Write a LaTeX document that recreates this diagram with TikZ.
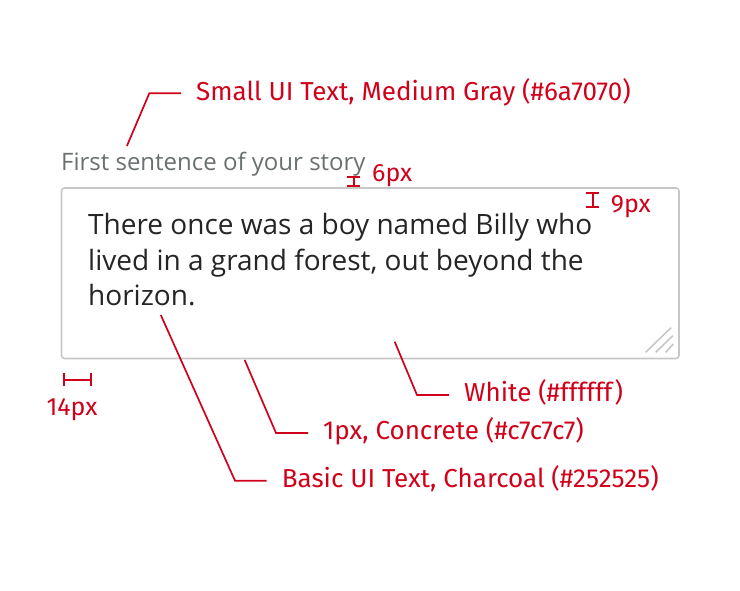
\documentclass[tikz,border=0pt]{standalone}
\usepackage{fontspec}
\setmainfont{Open Sans}
\newfontfamily\notefont{Fira Sans}
\usetikzlibrary{arrows.meta}
\definecolor{charcoal}{HTML}{252525}
\definecolor{mediumgray}{HTML}{6A7070}
\definecolor{concrete}{HTML}{C7C7C7}
\definecolor{specred}{HTML}{D0021B}
\tikzset{
	leader/.style={draw=specred, line width=1.7pt},
	note/.style={anchor=west, text=specred, font=\notefont\fontsize{26}{26}\selectfont,
		inner xsep=15pt, inner ysep=0pt, text height=13.4pt, text depth=0pt},
	gap/.style={draw=specred, line width=2pt, {Bar[width=13pt]}-{Bar[width=13pt]}},
	gaplabel/.style={text=specred, font=\notefont\fontsize{25}{25}\selectfont, inner sep=0pt},
	body/.style={anchor=base west, text=charcoal, font=\fontsize{28}{28}\selectfont, inner sep=0pt},
}

\begin{document}
\begin{tikzpicture}[x=1pt, y=-1pt]
		\useasboundingbox (0,0) rectangle (740,590);
		\coordinate (TL) at (61.5,188);
		\coordinate (BR) at (679,358.5);
		\draw[concrete, line width=1.6pt, fill=white, rounded corners=3pt] (TL) rectangle (BR);
		\draw[concrete, line width=1.6pt] (645.7,352.3) -- (671,327.7) (655.7,352.3) -- (672.7,335.7) (665.7,352.3) -- (673.3,344);
		\node[anchor=base west, inner sep=0pt, text=mediumgray, font=\fontsize{24}{24}\selectfont] (caption) at (61,170) {First sentence of your story};
		\node[body] (line1) at (88,234.3) {There once was a boy named Billy who};
		\node[body] (line2) at (88,270.7) {lived in a grand forest, out beyond the};
		\node[body] (line3) at (88,305.5) {horizon.};
		% callouts
		\coordinate (smallS) at (126.9,146);
		\coordinate (smallC) at (149.3,93.3);
		\node[note] (small) at (181,93.3) {Small UI Text, Medium Gray (\#6a7070)};
		\draw[leader] (smallS) -- (smallC) -- (small.west);
		\coordinate (whiteS) at (394.7,341.7);
		\coordinate (whiteC) at (417,395);
		\node[note] (white) at (449,395) {White (\#ffffff)};
		\draw[leader] (whiteS) -- (whiteC) -- (white.west);
		\coordinate (borderS) at (244.7,360);
		\coordinate (borderC) at (276,433);
		\node[note] (border) at (308,433) {1px, Concrete (\#c7c7c7)};
		\draw[leader] (borderS) -- (borderC) -- (border.west);
		\coordinate (basicS) at (160.8,315);
		\coordinate (basicC) at (235,480.7);
		\node[note] (basic) at (266.7,480.7) {Basic UI Text, Charcoal (\#252525)};
		\draw[leader] (basicS) -- (basicC) -- (basic.west);
		% spacings
		\coordinate (topA) at (353.7,176);
		\coordinate (topB) at (353.7,187);
		\draw[gap] (topA) -- (topB);
		\node[gaplabel, anchor=base west] (top) at (372,181) {6px};
		\coordinate (padA) at (592.5,191.7);
		\coordinate (padB) at (592.5,208.3);
		\draw[gap] (padA) -- (padB);
		\node[gaplabel, anchor=base west] (pad) at (610.7,212.3) {9px};
		\coordinate (sideA) at (62.7,379.5);
		\coordinate (sideB) at (91.7,379.5);
		\draw[gap] (sideA) -- (sideB);
		\node[gaplabel, anchor=base] (side) at (72,415) {14px};
	\end{tikzpicture}
\end{document}
